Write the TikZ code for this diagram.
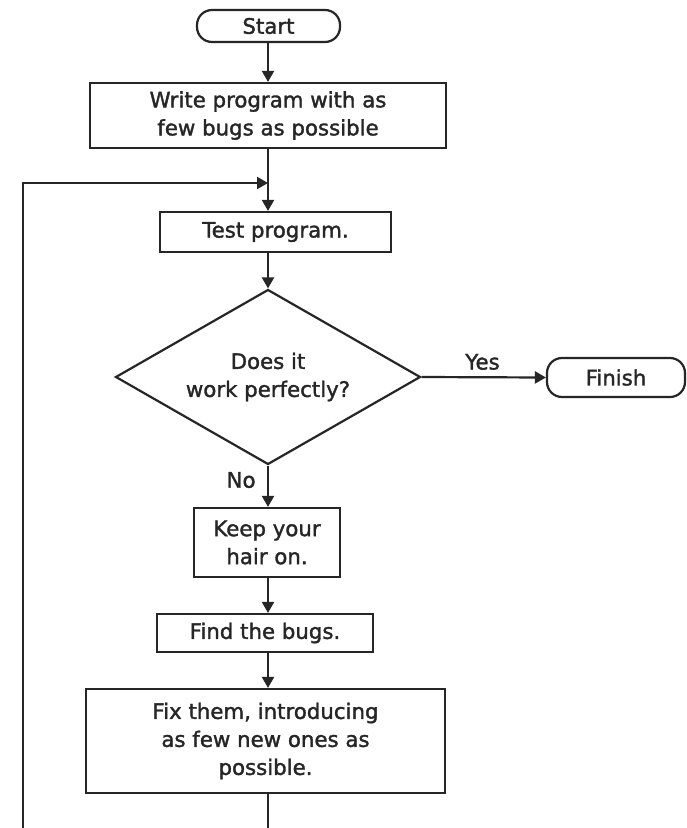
\documentclass[tikz,border=0pt]{standalone}
\usepackage{fontspec}
\setmainfont{DejaVu Sans}[FakeBold=1.6]
\usetikzlibrary{arrows.meta,shapes.geometric}
\definecolor{ink}{HTML}{262626}
\tikzset{
  every node/.style={font=\fontsize{21.3}{28}\selectfont, text=ink},
  procbox/.style={draw=ink, line width=2.2pt, rectangle, inner sep=0pt, align=center},
  termbox/.style={draw=ink, line width=2.2pt, rectangle, rounded corners=15pt, inner sep=0pt, align=center},
  decbox/.style={draw=ink, line width=2.2pt, diamond, aspect=1.743, inner sep=0pt, minimum width=305pt, minimum height=175pt, align=center},
  flow/.style={draw=ink, line width=2.2pt, -{Triangle[length=11pt,width=12pt]}},
  plain/.style={draw=ink, line width=2.2pt}
}
\begin{document}
\begin{tikzpicture}[x=1pt,y=-1pt]
\useasboundingbox (0,0) rectangle (687,828);
\fill[white] (0,0) rectangle (687,828);

\node[termbox, minimum width=143pt, minimum height=32pt] (start) at (268.5,26) {Start};
\node[procbox, minimum width=356pt, minimum height=65pt] (write) at (268,115.5) {Write program with as\\few bugs as possible};
\node[procbox, minimum width=231pt, minimum height=40pt] (test) at (275.5,232) {Test program.};
\node[decbox] (dec) at (268,377) {Does it\\work perfectly?};
\node[termbox, minimum width=138pt, minimum height=39pt] (finish) at (616,377.5) {Finish};
\node[procbox, minimum width=146pt, minimum height=69pt] (keep) at (267,542.5) {Keep your\\hair on.};
\node[procbox, minimum width=216pt, minimum height=38pt] (find) at (265,633) {Find the bugs.};
\node[procbox, minimum width=359pt, minimum height=104pt] (fix) at (265.5,741) {Fix them, introducing\\as few new ones as\\possible.};

\coordinate (join) at (268,183);
\coordinate (fixout) at (268,793);
\coordinate (bottomR) at (268,828);
\coordinate (bottomL) at (23,828);
\coordinate (leftTop) at (23,183);

\draw[flow] (start.south -| join) -- (write.north -| join);
\draw[plain] (write.south -| join) -- (join);
\draw[flow] (join) -- (test.north -| join);
\draw[flow] (test.south -| join) -- (dec.north);
\draw[flow] (dec.east) -- node[above=3pt, pos=0.49] (yes) {Yes} (finish.west);
\draw[flow] (dec.south) -- node[left=8pt, pos=0.35] (no) {No} (keep.north -| dec.south);
\draw[flow] (keep.south -| join) -- (find.north -| join);
\draw[flow] (find.south -| join) -- (fix.north -| join);
\draw[plain] (fixout) -- (bottomR);
\draw[flow] (bottomL) -- (leftTop) -- (join);
\end{tikzpicture}
\end{document}
